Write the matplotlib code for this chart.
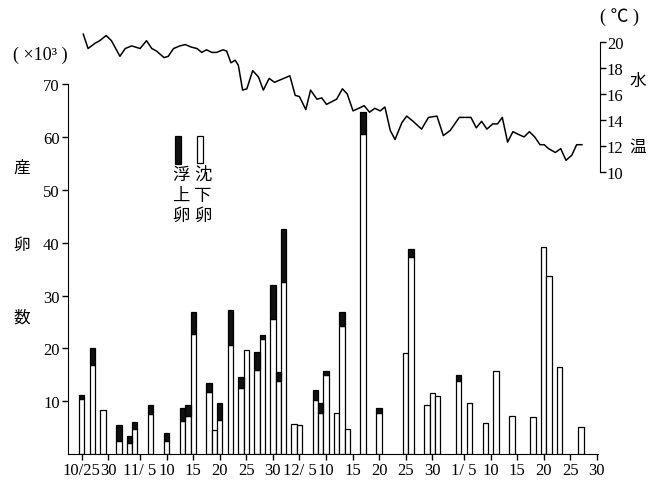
from datetime import date

import matplotlib
matplotlib.use("Agg")
import matplotlib.pyplot as plt
from matplotlib.patches import Rectangle

# spawning counts (x10^3) per day: sinking eggs (white) and floating eggs (black, stacked on top)
bar_dates = ["10/25", "10/27", "10/29", "11/1", "11/3", "11/4", "11/7", "11/10",
             "11/13", "11/14", "11/15", "11/18", "11/19", "11/20", "11/22", "11/24",
             "11/25", "11/27", "11/28", "11/30", "12/1", "12/2", "12/4", "12/5",
             "12/8", "12/9", "12/10", "12/12", "12/13", "12/14", "12/17", "12/20",
             "12/25", "12/26", "12/29", "12/30", "12/31", "1/4", "1/6", "1/9",
             "1/11", "1/14", "1/18", "1/20", "1/21", "1/23", "1/27"]
sinking = [10.4, 16.9, 8.4, 2.4, 2.0, 4.7, 7.5, 2.5,
           6.3, 7.2, 22.8, 11.8, 4.6, 6.5, 20.6, 12.5,
           19.7, 16.0, 21.7, 25.5, 13.8, 32.6, 5.6, 5.4,
           10.2, 7.8, 14.9, 7.7, 24.2, 4.7, 60.7, 7.8,
           19.2, 37.3, 9.2, 11.5, 10.9, 13.9, 9.7, 5.9,
           15.8, 7.2, 7.1, 39.2, 33.7, 16.4, 5.2]
floating = [0.8, 3.1, 0, 3.1, 1.5, 1.3, 1.7, 1.4,
            2.4, 2.1, 4.1, 1.7, 0, 3.1, 6.6, 2.1,
            0, 3.4, 0.9, 6.6, 1.8, 10.1, 0, 0,
            1.9, 1.8, 0.9, 0, 2.7, 0, 4.1, 0.9,
            0, 1.5, 0, 0, 0, 1.0, 0, 0,
            0, 0, 0, 0, 0, 0, 0]

# water temperature, days after 10/25
temp_days = [0.3, 1.2, 2.5, 3.4, 4.6, 5.6, 7.2, 8.2, 9.4, 11.0, 12.2, 13.2, 14.1,
             15.5, 16.3, 17.3, 18.5, 19.5, 20.7, 21.7, 22.6, 23.5, 24.5, 25.4,
             26.6, 27.3, 28.1, 28.9, 29.5, 30.3, 31.1, 32.2, 33.3, 34.2, 35.3,
             36.3, 39.2, 40.2, 41.0, 42.2, 43.1, 44.3, 45.2, 46.1, 48.0, 49.1,
             50.0, 51.1, 53.2, 54.2, 55.2, 56.2, 57.1, 58.1, 59.0, 60.3, 61.2,
             62.4, 64.0, 65.3, 66.9, 68.1, 69.4, 71.1, 72.2, 73.3, 74.3, 75.3,
             76.3, 77.4, 78.3, 79.2, 80.2, 81.2, 82.2, 83.3, 84.3, 85.3, 86.3,
             87.1, 87.9, 89.2, 90.2, 91.2, 92.3, 93.2, 94.2]
temps = [20.6, 19.5, 19.9, 20.1, 20.5, 20.1, 18.9, 19.5, 19.7, 19.5, 20.1, 19.5, 19.3,
         18.8, 18.9, 19.5, 19.7, 19.8, 19.6, 19.5, 19.2, 19.4, 19.2, 19.2,
         19.4, 19.3, 18.4, 18.6, 18.2, 16.3, 16.4, 17.8, 17.3, 16.3, 17.2,
         16.9, 17.4, 15.9, 15.8, 14.8, 16.3, 15.6, 15.7, 15.2, 15.6, 16.4,
         16.0, 14.7, 15.1, 14.6, 14.9, 14.7, 15.0, 13.2, 12.5, 13.8, 14.3,
         13.9, 13.3, 14.2, 14.3, 12.8, 13.2, 14.2, 14.2, 14.2, 13.4, 13.9,
         13.3, 13.7, 13.7, 14.2, 12.3, 13.1, 12.9, 12.7, 13.1, 12.7, 12.1,
         12.1, 11.8, 11.5, 11.8, 10.9, 11.3, 12.1, 12.1]

tick_days = [0, 5, 11, 16, 21, 26, 31, 36, 41, 46, 51, 56, 61, 66, 72, 77, 82, 87, 92, 97]
tick_labels = ["10/25", "30", "11/ 5", "10", "15", "20", "25", "30", "12/ 5", "10",
               "15", "20", "25", "30", "1/ 5", "10", "15", "20", "25", "30"]

jp = ["Noto Sans CJK JP", "DejaVu Sans"]
num = ["Liberation Serif", "Noto Sans CJK JP"]


def day_num(s):
    m, d = map(int, s.split("/"))
    y = 2000 if m >= 10 else 2001
    return (date(y, m, d) - date(2000, 10, 25)).days


days = [day_num(s) for s in bar_dates]

W, H = 650, 481
fig = plt.figure(figsize=(W / 100, H / 100), dpi=100)
ax = fig.add_axes([68 / W, 26 / H, 532 / W, 425 / H])

ax.bar(days, sinking, width=1.0, color="white", edgecolor="black", linewidth=0.9, zorder=2)
fd = [d for d, f in zip(days, floating) if f > 0]
fb = [s for s, f in zip(sinking, floating) if f > 0]
fh = [f for f in floating if f > 0]
ax.bar(fd, fh, bottom=fb, width=1.0, color="#111111", edgecolor="black", linewidth=0.9, zorder=3)

ax.set_xlim(-2.58, 97.6)
ax.set_ylim(0, 80.5)
ax.spines["top"].set_visible(False)
ax.spines["right"].set_visible(False)
ax.spines["left"].set_bounds(0, 70)
ax.spines["bottom"].set_bounds(-2.58, 97.3)
ax.set_yticks([10, 20, 30, 40, 50, 60, 70])
ax.set_xticks(tick_days)
ax.set_xticklabels(tick_labels, family=num, fontsize=12)
for lab in ax.get_yticklabels():
    lab.set_family(num)
    lab.set_fontsize(12)
ax.tick_params(axis="both", direction="out", length=4, width=1, pad=2)

ax2 = ax.twinx()
ax2.plot(temp_days, temps, color="black", linewidth=1.1)
ax2.set_ylim(-11.69, 21.0)
for s in ["top", "left", "bottom"]:
    ax2.spines[s].set_visible(False)
ax2.spines["right"].set_bounds(10, 20)
ax2.set_yticks([10, 12, 14, 16, 18, 20])
for lab in ax2.get_yticklabels():
    lab.set_family(num)
    lab.set_fontsize(12)
ax2.tick_params(axis="y", direction="out", length=4, width=1, pad=1)

# unit labels and axis titles
fig.text(40 / W, 1 - 55 / H, "( ×10³ )", family=num, fontsize=13, ha="center", va="center")
fig.text(620 / W, 1 - 17 / H, "( ℃ )", family=num, fontsize=13, ha="center", va="center")
for ch, y in zip("産卵数", [168, 245, 318]):
    fig.text(22 / W, 1 - y / H, ch, family=jp, fontsize=12, ha="center", va="center")
for ch, y in zip("水温", [81, 147]):
    fig.text(638 / W, 1 - y / H, ch, family=jp, fontsize=12, ha="center", va="center")

# hand-drawn legend
fig.patches.append(Rectangle((175 / W, 1 - 165 / H), 6 / W, 28 / H, transform=fig.transFigure,
                             facecolor="#111111", edgecolor="black", linewidth=0.9))
fig.patches.append(Rectangle((197 / W, 1 - 164 / H), 6 / W, 27 / H, transform=fig.transFigure,
                             facecolor="white", edgecolor="black", linewidth=0.9))
for x, word in [(181, "浮上卵"), (203, "沈下卵")]:
    for ch, y in zip(word, [175, 196, 216]):
        fig.text(x / W, 1 - y / H, ch, family=jp, fontsize=12.5, ha="center", va="center")

fig.savefig("out.png", dpi=100)
